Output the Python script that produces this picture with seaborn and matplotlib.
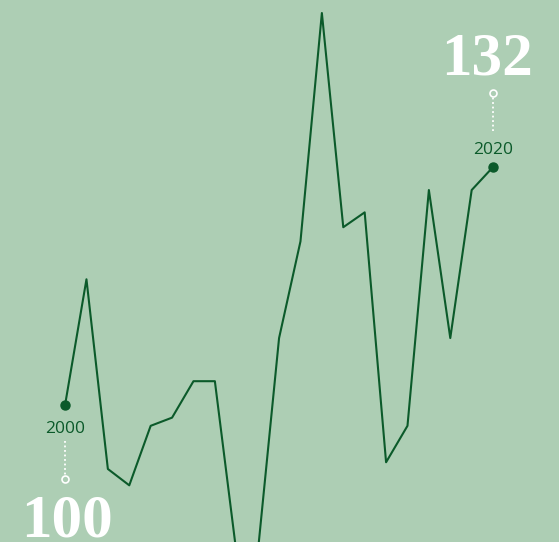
import matplotlib
matplotlib.use("Agg")
import matplotlib.pyplot as plt
import seaborn as sns
import pandas as pd

# === Data (index, 2000 = 100) ===
years = list(range(2000, 2021))
values = [100, 116.9, 91.4, 89.2, 97.2, 98.3, 103.2, 103.2, 80.3, 80.0, 109.0,
          122.0, 152.7, 123.9, 125.9, 92.3, 97.2, 128.9, 109.0, 128.9, 132]
start_label = "100"
end_label = "132"

BG = "#adceb4"
LINE = "#0b5a2a"

df = pd.DataFrame({"year": years, "value": values})

sns.set_theme(style="white")
plt.rcParams["font.family"] = ["Open Sans", "DejaVu Sans"]

fig = plt.figure(figsize=(5.59, 5.42), dpi=100, facecolor=BG)
ax = fig.add_axes([0, 0, 1, 1])
ax.set_facecolor(BG)

sns.lineplot(data=df, x="year", y="value", color=LINE, linewidth=1.5, ax=ax)

ax.set_xlim(1996.96, 2023.08)
ax.set_ylim(81.58, 154.45)
ax.set_axis_off()

# end point annotations
trans = ax.transData
inv = trans.inverted()
for yr, val, sign, big in [(years[0], values[0], -1, start_label),
                           (years[-1], values[-1], 1, end_label)]:
    ax.plot(yr, val, "o", color=LINE, markersize=6.5, zorder=5)
    ax.annotate(str(yr), (yr, val), xytext=(0, 17 if sign > 0 else -24),
                textcoords="offset pixels", ha="center", va="center",
                fontsize=12.5, color=LINE)
    # dotted connector
    x0, y0 = trans.transform((yr, val))
    _, ya = inv.transform((x0, y0 + sign * 36))
    _, yb = inv.transform((x0, y0 + sign * 70))
    _, yc = inv.transform((x0, y0 + sign * 74))
    ax.plot([yr, yr], [ya, yb], color="white", linewidth=1.3, linestyle=(0, (1, 1.5)))
    ax.plot(yr, yc, "o", markersize=5, markerfacecolor="none",
            markeredgecolor="white", markeredgewidth=1.2)
    ax.annotate(big, (yr, val), xytext=(2 if sign < 0 else -6, 92 if sign > 0 else -132),
                textcoords="offset pixels", ha="center", va="baseline",
                fontsize=44, fontweight="bold", color="white",
                family=["Liberation Serif", "DejaVu Serif"])

fig.savefig("out.png", dpi=100, facecolor=BG)
